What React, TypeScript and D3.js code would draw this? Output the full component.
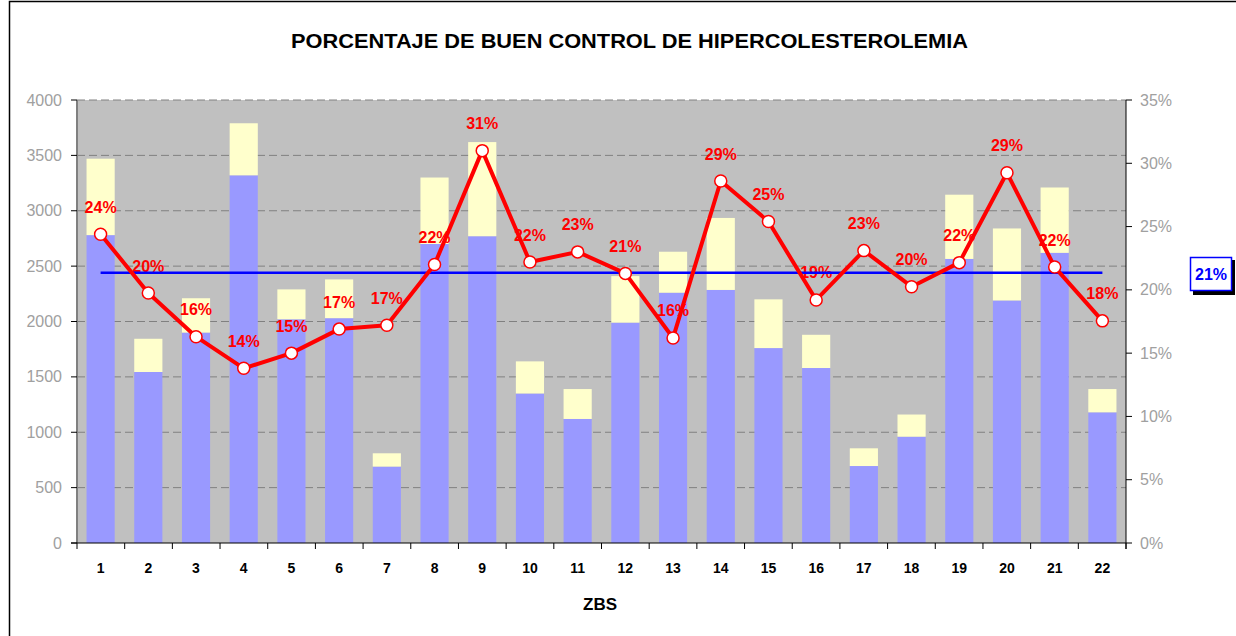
import React from "react";
import * as d3 from "d3";

const categories = ["1","2","3","4","5","6","7","8","9","10","11","12","13","14","15","16","17","18","19","20","21","22"];
const blueValues = [2780,1544,1900,3320,2020,2030,690,2700,2770,1350,1120,1990,2260,2285,1760,1580,695,960,2565,2190,2620,1180];
const yellowValues = [690,300,310,470,270,350,120,600,850,290,270,420,370,650,440,300,160,200,580,650,590,210];
const pctValues = [24.4,19.75,16.3,13.8,15.0,16.9,17.2,22.0,31.0,22.2,23.0,21.3,16.2,28.6,25.4,19.2,23.1,20.25,22.15,29.25,21.8,17.55];
const averagePct = 21.36;
const leftTicks = [0,500,1000,1500,2000,2500,3000,3500,4000];
const rightTicks = [0,5,10,15,20,25,30,35];
const title = "PORCENTAJE DE BUEN CONTROL DE HIPERCOLESTEROLEMIA";
const xTitle = "ZBS";

const W = 1236, H = 636;
const PL = 77, PR = 1126, PT = 100, PB = 543;
const FONT = "'Liberation Sans', Arial, Helvetica, sans-serif";

export default function App() {
  const x = d3.scaleBand<string>().domain(categories).range([PL, PR]).paddingInner(0.41).paddingOuter(0.2);
  const yL = d3.scaleLinear().domain([0, 4000]).range([PB, PT]);
  const yR = d3.scaleLinear().domain([0, 35]).range([PB, PT]);
  const cx = (c: string) => (x(c) as number) + x.bandwidth() / 2;
  const line = d3.line<number>().x((_, i) => cx(categories[i])).y((d) => yR(d));
  const step = (PR - PL) / categories.length;

  return (
    <svg width={W} height={H} style={{ position: "absolute", left: 0, top: 0, background: "#fff" }} fontFamily={FONT}>
      <rect x={9.5} y={1.5} width={1400} height={800} fill="#fff" stroke="#000" strokeWidth={1.5} />
      <text x={629.5} y={48} textAnchor="middle" fontSize={21} fontWeight="bold" textLength={677} lengthAdjust="spacingAndGlyphs">{title}</text>

      {/* plot background */}
      <rect x={PL} y={PT} width={PR - PL} height={PB - PT} fill="#C0C0C0" />
      {/* gridlines */}
      {leftTicks.filter((t) => t > 0).map((t) => (
        <line key={"g" + t} x1={PL} x2={PR} y1={yL(t)} y2={yL(t)} stroke="#808080" strokeWidth={1} strokeDasharray="8 4" />
      ))}

      {/* bars */}
      {categories.map((c, i) => (
        <g key={"b" + c}>
          <rect x={x(c)} width={x.bandwidth()} y={yL(blueValues[i])} height={PB - yL(blueValues[i])} fill="#9999FF" />
          <rect x={x(c)} width={x.bandwidth()} y={yL(blueValues[i] + yellowValues[i])} height={yL(blueValues[i]) - yL(blueValues[i] + yellowValues[i])} fill="#FFFFCC" />
        </g>
      ))}

      {/* left axis */}
      <line x1={PL} x2={PL} y1={PT} y2={PB} stroke="#808080" strokeWidth={2} />
      {leftTicks.map((t) => (
        <g key={"l" + t}>
          <line x1={PL - 6} x2={PL} y1={yL(t)} y2={yL(t)} stroke="#000" strokeWidth={1} />
          <text x={62} y={yL(t) + 5.5} textAnchor="end" fontSize={16} fill="#A0A0A0">{t}</text>
        </g>
      ))}
      {/* right axis */}
      <line x1={PR} x2={PR} y1={PT} y2={PB + 6} stroke="#000" strokeWidth={1} />
      {rightTicks.map((t) => (
        <g key={"r" + t}>
          <line x1={PR} x2={PR + 6} y1={yR(t)} y2={yR(t)} stroke="#000" strokeWidth={1} />
          <text x={1140} y={yR(t) + 5.5} textAnchor="start" fontSize={16} fill="#A0A0A0">{t + "%"}</text>
        </g>
      ))}
      {/* bottom axis */}
      <line x1={PL - 6} x2={PR} y1={PB} y2={PB} stroke="#000" strokeWidth={1} />
      {d3.range(categories.length + 1).map((i) => (
        <line key={"t" + i} x1={PL + i * step} x2={PL + i * step} y1={PB} y2={PB + 6} stroke="#000" strokeWidth={1} />
      ))}
      {categories.map((c) => (
        <text key={"x" + c} x={cx(c)} y={573} textAnchor="middle" fontSize={14} fontWeight="bold" fill="#000">{c}</text>
      ))}
      <text x={600} y={610} textAnchor="middle" fontSize={17} fontWeight="bold" fill="#000">{xTitle}</text>

      {/* data labels */}
      {pctValues.map((v, i) => (
        <text key={"d" + i} x={cx(categories[i])} y={yR(v) - 21.5} textAnchor="middle" fontSize={16} fontWeight="bold" fill="#FF0000">{Math.round(v) + "%"}</text>
      ))}

      {/* average line */}
      <line x1={cx(categories[0])} x2={cx(categories[categories.length - 1])} y1={yR(averagePct)} y2={yR(averagePct)} stroke="#0000FF" strokeWidth={2.5} />

      {/* percentage line */}
      <path d={line(pctValues) || ""} fill="none" stroke="#FF0000" strokeWidth={4} strokeLinejoin="round" />
      {pctValues.map((v, i) => (
        <circle key={"m" + i} cx={cx(categories[i])} cy={yR(v)} r={6} fill="#fff" stroke="#FF0000" strokeWidth={1.5} />
      ))}

      {/* average label box */}
      <rect x={1193} y={260} width={42} height={35} fill="#000" />
      <rect x={1190.5} y={257.5} width={41} height={33} fill="#fff" stroke="#0000FF" strokeWidth={1.5} />
      <text x={1211} y={280} textAnchor="middle" fontSize={16} fontWeight="bold" fill="#0000FF">{Math.round(averagePct) + "%"}</text>
    </svg>
  );
}
